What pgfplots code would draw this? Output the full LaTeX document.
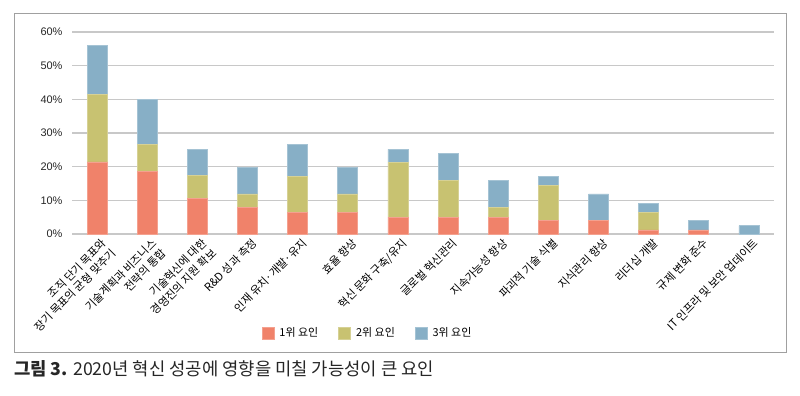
\documentclass[border=0pt]{standalone}
\usepackage{fontspec}
\setmainfont{Noto Sans CJK KR}
\newfontfamily\arialf{Liberation Sans}
\usepackage{pgfplots}
\pgfplotsset{compat=1.18}
\definecolor{cr}{HTML}{F0826A}
\definecolor{co}{HTML}{C8C271}
\definecolor{cb}{HTML}{87AFC6}
\definecolor{gridc}{HTML}{C8C8C8}
\definecolor{framec}{HTML}{A0A0A0}
\begin{document}
\begin{tikzpicture}[x=1bp,y=1bp]
\path (0,0) rectangle (800,395);
\draw[framec, line width=1bp] (14,43) rectangle (786,381);
\begin{axis}[
  at={(72bp,161bp)}, anchor=south west,
  scale only axis, width=702bp, height=202bp,
  xmin=-0.5, xmax=13.5, ymin=0, ymax=60,
  axis line style={draw=none},
  major tick length=0pt,
  ymajorgrids, grid style={gridc, line width=1.3bp},
  ybar stacked, bar width=20bp,
  xtick={0,...,13},
  xticklabels={{조직 단기 목표와\\장기 목표의 균형 맞추기},{기술계획과 비즈니스\\전략의 통합},{기술혁신에 대한\\경영진의 지원 확보},{R\&D 성과 측정},{인재 유치·개발·유지},{효율 향상},{혁신 문화 구축/유지},{글로벌 혁신관리},{지속가능성 향상},{파괴적 기술 식별},{지식관리 향상},{리더십 개발},{규제 변화 준수},{IT 인프라 및 보안 업데이트}},
  xticklabel style={rotate=45, anchor=north east, align=right, inner sep=1bp,
     font=\fontsize{11.2}{14}\selectfont, text=black, yshift=-4bp, xshift=1bp},
  ytick={0,10,...,60},
  yticklabels={0\%,10\%,20\%,30\%,40\%,50\%,60\%},
  yticklabel style={font=\arialf\fontsize{11}{13}\selectfont, text=black!85, xshift=-6bp},
  legend style={at={(0.421,-0.49)}, anchor=center, draw=none, legend columns=3,
     font=\fontsize{11}{13}\selectfont, text=black,
     /tikz/every odd column/.append style={column sep=3bp},
     /tikz/every even column/.append style={column sep=18bp}},
  legend image code/.code={\fill[#1] (0bp,-6bp) rectangle (12bp,6bp);},
]
\addplot[fill=cr, draw=cr!75!white, line width=0.8bp] coordinates {(0,21.4) (1,18.7) (2,10.5) (3,7.8) (4,6.5) (5,6.5) (6,5.0) (7,5.0) (8,5.0) (9,3.9) (10,3.9) (11,1.2) (12,1.2) (13,0)};
\addplot[fill=co, draw=co!75!white, line width=0.8bp] coordinates {(0,20.0) (1,8.0) (2,6.8) (3,4.1) (4,10.7) (5,5.4) (6,16.2) (7,10.8) (8,2.8) (9,10.6) (10,0) (11,5.3) (12,0) (13,0)};
\addplot[fill=cb, draw=cb!75!white, line width=0.8bp] coordinates {(0,14.7) (1,13.3) (2,7.9) (3,7.9) (4,9.3) (5,7.9) (6,3.9) (7,8.0) (8,8.0) (9,2.6) (10,8.0) (11,2.6) (12,2.7) (13,2.5)};
\legend{1위 요인,2위 요인,3위 요인}
\end{axis}
\node[anchor=base west, inner sep=0, font=\fontsize{17.8}{19}\selectfont, text=black!85] at (14,20) {{\bfseries 그림 3.} 2020년 혁신 성공에 영향을 미칠 가능성이 큰 요인};
\end{tikzpicture}
\end{document}
